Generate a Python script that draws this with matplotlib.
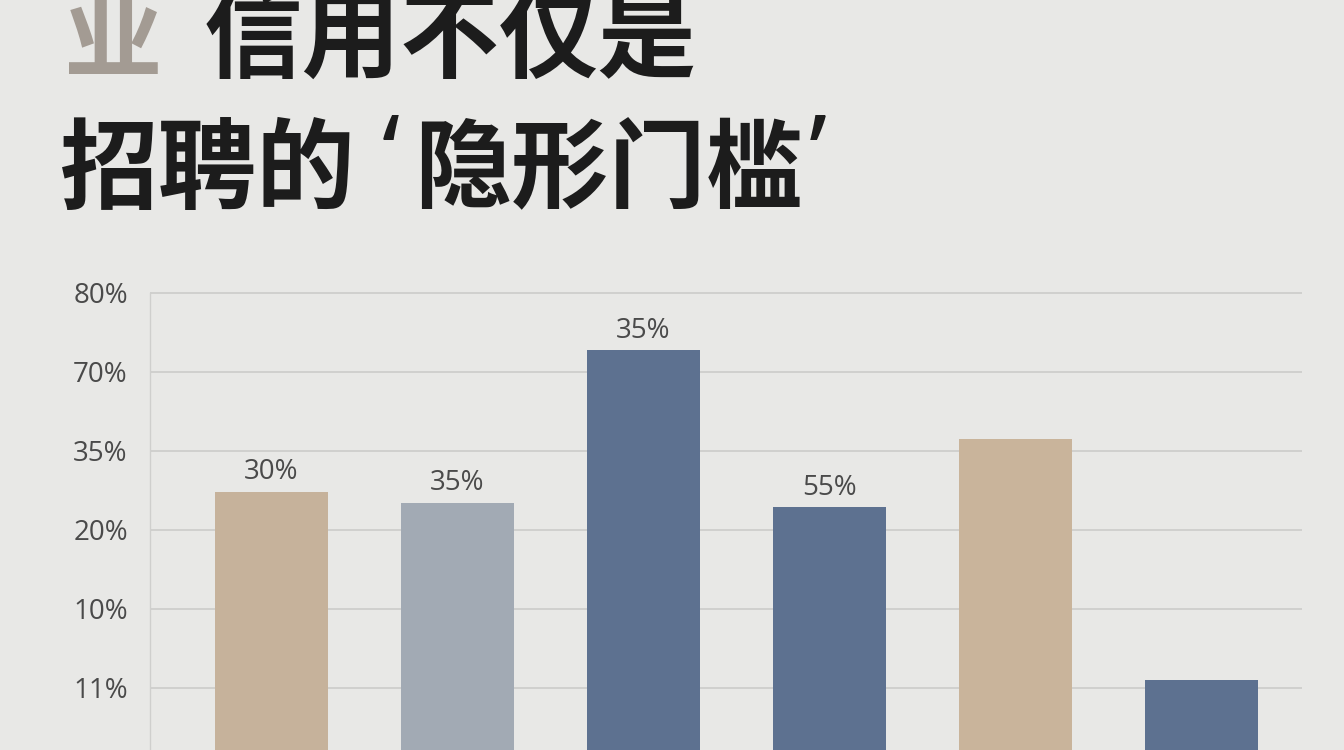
import matplotlib
matplotlib.use("Agg")
import matplotlib.pyplot as plt
import numpy as np

# values, in gridline units (gridlines are evenly spaced)
bar_values = [3.48, 3.34, 5.27, 3.28, 4.15, 1.10]
bar_labels = ["30%", "35%", "35%", "55%", "", ""]
bar_colors = ["#c6b29b", "#a2aab4", "#5d7190", "#5d7190", "#c9b49b", "#5d7190"]
tick_pos = [1, 2, 3, 4, 5, 6]
tick_labels = ["11%", "10%", "20%", "35%", "70%", "80%"]

bg = "#e8e8e6"
fig = plt.figure(figsize=(13.44, 7.5), dpi=100, facecolor=bg)

# title, drawn in pieces so the quote marks sit like in the print
cjk = ["Noto Sans CJK SC", "DejaVu Sans"]
W, H = 1344, 750
def px(x, y):
    return x / W, 1 - y / H

fig.text(*px(64, 41), "业", fontsize=71, fontweight="heavy", color="#a39b93",
         family=cjk, va="center", ha="left")
fig.text(*px(204, 41), "信用不仅是", fontsize=71, fontweight="heavy", color="#1c1c1c",
         family=cjk, va="center", ha="left")
fig.text(*px(60, 172), "招聘的", fontsize=71, fontweight="heavy", color="#1c1c1c",
         family=cjk, va="center", ha="left")
fig.text(*px(391, 188), "‘", fontsize=74, fontweight="bold", color="#1c1c1c",
         family="Noto Sans", va="baseline", ha="center")
fig.text(*px(414, 172), "隐形门槛", fontsize=70, fontweight="heavy", color="#1c1c1c",
         family=cjk, va="center", ha="left")
fig.text(*px(818, 188), "’", fontsize=74, fontweight="bold", color="#1c1c1c",
         family="Noto Sans", va="baseline", ha="center")

# chart area: level 0 sits just below the bottom of the picture
ax = fig.add_axes([150 / W, -16.7 / H, (1302 - 150) / W, 490 / H])
ax.set_facecolor(bg)
x = np.arange(len(bar_values))
bars = ax.bar(x, bar_values, width=0.61, color=bar_colors, zorder=3)

for b, lab in zip(bars, bar_labels):
    if lab:
        ax.annotate(lab, (b.get_x() + b.get_width() / 2, b.get_height()),
                    xytext=(0, 9), textcoords="offset points", ha="center", va="baseline",
                    fontsize=20, color="#4a4a4a", family="Open Sans")

ax.set_xlim(-0.653, 5.54)
ax.set_ylim(0, 6.2)
ax.set_yticks(tick_pos)
ax.set_yticklabels(tick_labels, fontsize=20, color="#4a4a4a", family="Open Sans")
ax.set_xticks([])
ax.tick_params(axis="y", length=0, pad=16)
ax.yaxis.grid(True, color="#c9c9c7", lw=1.1, zorder=0)
for s in ["top", "right", "bottom"]:
    ax.spines[s].set_visible(False)
ax.spines["left"].set_color("#cfcfcd")
ax.spines["left"].set_linewidth(1)
ax.spines["left"].set_bounds(0, 6)

fig.savefig("out.png", dpi=100, facecolor=bg)
